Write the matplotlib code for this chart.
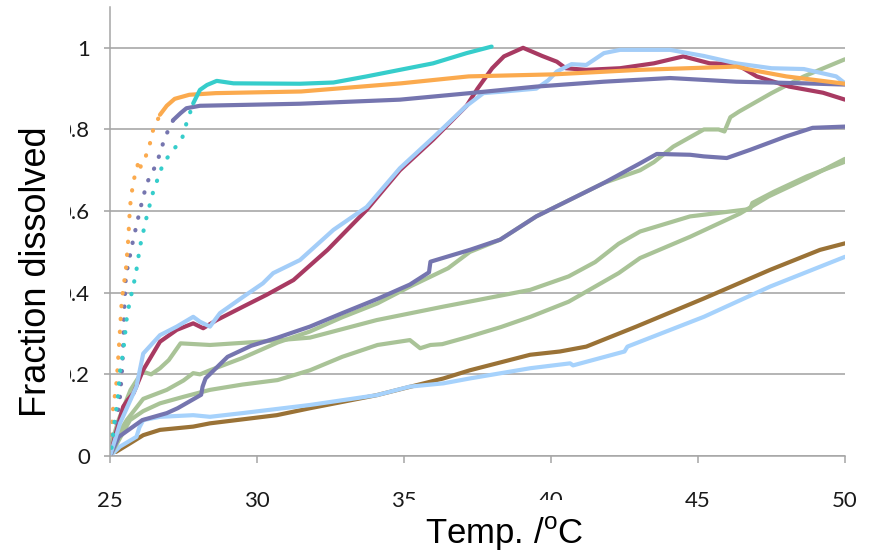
import matplotlib
matplotlib.use("Agg")
import matplotlib.pyplot as plt
from matplotlib import font_manager as fm
from matplotlib.patches import Rectangle

# dissolution curves (temperature in C, fraction dissolved)
orange_T = [25.0, 25.11, 25.17, 25.23, 25.28, 25.34, 25.40, 25.47, 25.54, 25.62, 25.68, 25.79, 25.90,
            25.97, 26.03, 26.10, 26.22, 26.36, 26.47, 26.70, 26.93, 27.20, 27.70, 28.60, 31.50, 34.90,
            37.20, 40.10, 43.00, 46.30, 46.80, 48.00, 50.00]
orange_f = [0.02, 0.121, 0.15, 0.186, 0.24, 0.309, 0.382, 0.42, 0.456, 0.53, 0.611, 0.672, 0.70,
            0.722, 0.705, 0.728, 0.735, 0.766, 0.80, 0.836, 0.858, 0.875, 0.885, 0.889, 0.893, 0.913,
            0.93, 0.935, 0.946, 0.954, 0.946, 0.93, 0.912]

purple_fast_T = [25.0, 25.15, 25.28, 25.34, 25.40, 25.44, 25.48, 25.54, 25.62, 25.79, 26.02, 26.25,
                 26.40, 26.59, 26.80, 26.93, 27.15, 27.40, 27.60, 28.06, 31.46, 34.86, 37.24, 39.5,
                 41.8, 44.05, 46.3, 48.6, 50.0]
purple_fast_f = [0.02, 0.07, 0.113, 0.145, 0.20, 0.252, 0.35, 0.44, 0.47, 0.53, 0.603, 0.668,
                 0.69, 0.717, 0.765, 0.79, 0.823, 0.84, 0.852, 0.858, 0.863, 0.873, 0.889, 0.905,
                 0.917, 0.926, 0.917, 0.913, 0.91]

cyan_T = [25.05, 25.17, 25.25, 25.34, 25.45, 25.57, 25.68, 25.79, 25.90, 26.02, 26.25, 26.47, 26.81,
          27.15, 27.44, 27.60, 27.83, 28.06, 28.30, 28.63, 29.20, 31.46, 32.60, 33.73, 34.86, 35.99,
          37.13, 37.98]
cyan_f = [0.02, 0.096, 0.13, 0.207, 0.256, 0.338, 0.382, 0.415, 0.456, 0.513, 0.587, 0.648, 0.717,
          0.75, 0.775, 0.815, 0.864, 0.897, 0.909, 0.919, 0.913, 0.912, 0.915, 0.93, 0.946, 0.962,
          0.987, 1.003]

crimson_T = [25.0, 25.23, 25.45, 25.6, 25.8, 26.13, 26.7, 27.27, 27.83, 28.17, 28.63, 29.53, 30.33,
             31.24, 32.4, 33.73, 34.86, 35.99, 37.13, 37.5, 38.0, 38.4, 39.05, 39.7, 40.2, 40.5, 41.2,
             42.35, 43.5, 44.5, 45.4, 46.3, 47.0, 48.1, 49.25, 50.0]
crimson_f = [0.0, 0.064, 0.121, 0.137, 0.154, 0.211, 0.28, 0.309, 0.325, 0.313, 0.333, 0.366, 0.395,
             0.431, 0.505, 0.603, 0.70, 0.775, 0.858, 0.90, 0.95, 0.979, 1.0, 0.98, 0.966, 0.95, 0.946,
             0.95, 0.962, 0.979, 0.962, 0.96, 0.93, 0.905, 0.89, 0.873]

ltblue_T = [25.0, 25.34, 25.9, 26.13, 26.7, 27.27, 27.83, 28.06, 28.4, 28.74, 29.53, 30.2, 30.55,
            31.46, 32.6, 33.73, 34.86, 35.99, 37.13, 37.7, 38.4, 39.5, 39.9, 40.2, 40.7, 41.2, 41.8,
            42.35, 43.5, 44.05, 45.2, 46.3, 47.5, 48.6, 49.7, 50.0]
ltblue_f = [0.0, 0.08, 0.17, 0.251, 0.296, 0.317, 0.341, 0.329, 0.317, 0.35, 0.39, 0.423, 0.448,
            0.48, 0.554, 0.61, 0.705, 0.78, 0.858, 0.889, 0.893, 0.90, 0.92, 0.942, 0.96, 0.958, 0.987,
            0.995, 0.995, 0.995, 0.98, 0.962, 0.95, 0.948, 0.93, 0.913]

purple_slow_T = [25.0, 25.3, 26.1, 26.93, 27.3, 28.1, 28.15, 28.25, 29.0, 29.8, 30.7, 31.8, 32.9,
                 34.1, 35.2, 35.85, 35.9, 37.24, 38.27, 39.5, 41.8, 43.03, 43.6, 44.73, 45.2, 45.98,
                 46.77, 48.0, 48.9, 50.0]
purple_slow_f = [0.0, 0.047, 0.088, 0.105, 0.117, 0.15, 0.17, 0.19, 0.243, 0.27, 0.29, 0.317, 0.35,
                 0.385, 0.42, 0.45, 0.476, 0.505, 0.53, 0.587, 0.669, 0.717, 0.74, 0.738, 0.734, 0.73,
                 0.75, 0.783, 0.804, 0.807]

green_a_T = [25.0, 25.57, 26.13, 26.93, 27.5, 27.83, 28.06, 28.4, 29.5, 30.7, 31.8, 32.9, 34.1, 35.2,
             36.5, 37.24, 38.27, 39.5, 41.8, 43.03, 43.5, 44.16, 45.2, 45.7, 45.9, 46.1, 46.4, 47.5,
             48.6, 50.0]
green_a_f = [0.02, 0.088, 0.14, 0.162, 0.185, 0.203, 0.20, 0.21, 0.24, 0.278, 0.305, 0.34, 0.374,
             0.415, 0.46, 0.50, 0.53, 0.587, 0.669, 0.70, 0.72, 0.758, 0.80, 0.80, 0.795, 0.83, 0.844,
             0.889, 0.93, 0.972]

green_b_T = [25.0, 25.3, 25.7, 26.1, 26.4, 26.7, 27.0, 27.4, 28.4, 30.1, 31.8, 34.07, 36.34, 37.5,
             39.29, 40.6, 41.5, 42.3, 43.03, 44.73, 46.77, 46.85, 47.6, 48.7, 50.0]
green_b_f = [0.02, 0.09, 0.162, 0.207, 0.20, 0.215, 0.235, 0.276, 0.272, 0.28, 0.29, 0.333, 0.366,
             0.382, 0.407, 0.44, 0.475, 0.52, 0.55, 0.587, 0.605, 0.62, 0.648, 0.685, 0.721]

green_c_T = [25.0, 25.68, 26.13, 26.7, 27.5, 28.4, 29.5, 30.7, 31.8, 32.9, 34.1, 35.2, 35.55, 35.9,
             36.3, 37.2, 38.3, 39.3, 40.6, 42.3, 43.03, 44.73, 46.43, 47.4, 48.7, 50.0]
green_c_f = [0.0, 0.088, 0.11, 0.129, 0.145, 0.162, 0.175, 0.186, 0.21, 0.243, 0.272, 0.284, 0.264,
             0.272, 0.274, 0.292, 0.316, 0.341, 0.378, 0.448, 0.485, 0.537, 0.594, 0.636, 0.68, 0.728]

brown_T = [25.2, 25.68, 26.13, 26.7, 27.83, 28.4, 30.67, 31.8, 34.07, 36.34, 37.24, 39.29, 40.3,
           41.2, 42.9, 45.2, 47.45, 49.15, 50.0]
brown_f = [0.01, 0.031, 0.051, 0.064, 0.072, 0.08, 0.10, 0.117, 0.149, 0.19, 0.21, 0.248, 0.256,
           0.268, 0.317, 0.386, 0.456, 0.505, 0.521]

ltblue_low_T = [25.0, 25.34, 25.9, 26.0, 26.13, 26.7, 27.83, 28.4, 29.5, 31.8, 34.07, 35.2, 36.34,
                37.24, 39.29, 40.65, 40.75, 42.5, 42.6, 45.2, 47.45, 50.0]
ltblue_low_f = [0.0, 0.023, 0.047, 0.07, 0.088, 0.096, 0.10, 0.096, 0.105, 0.125, 0.149, 0.17, 0.178,
                0.19, 0.215, 0.227, 0.222, 0.256, 0.268, 0.341, 0.415, 0.488]

y_ticks = [0, 0.2, 0.4, 0.6, 0.8, 1]
y_tick_labels = ["0", "0.2", "0.4", "0.6", "0.8", "1"]
x_ticks = [25, 30, 35, 40, 45, 50]


def pick_font(names):
    for n in names:
        try:
            fm.findfont(n, fallback_to_default=False)
            return n
        except ValueError:
            pass
    return "DejaVu Sans"


tick_font = pick_font(["Liberation Sans Narrow", "Lato"])
tick_size = 18 if tick_font == "Liberation Sans Narrow" else 16
label_font = pick_font(["Liberation Sans", "Arial"])

plt.rcParams["mathtext.fontset"] = "custom"
plt.rcParams["mathtext.rm"] = label_font

W, H = 870, 553
fig = plt.figure(figsize=(W / 100, H / 100), dpi=100)
ax = fig.add_axes([110 / W, 97 / H, 735 / W, 449 / H])

LW = 3.0
DOTS = (0, (0.1, 3.0))

# series drawn in order: low ones first, fast risers on top
series = [
    (brown_T, brown_f, "#9A7236", None),
    (ltblue_low_T, ltblue_low_f, "#A6D2FC", None),
    (green_c_T, green_c_f, "#A9C397", None),
    (green_b_T, green_b_f, "#A9C397", None),
    (green_a_T, green_a_f, "#A9C397", None),
    (purple_slow_T, purple_slow_f, "#7575AF", None),
    (crimson_T, crimson_f, "#A83A62", None),
    (ltblue_T, ltblue_f, "#A3CDF8", None),
    (purple_fast_T, purple_fast_f, "#7575AF", 27.15),
    (orange_T, orange_f, "#FBAA4E", 26.8),
    (cyan_T, cyan_f, "#36CDCB", 27.9),
]

for T, f, col, split in series:
    if split is None:
        ax.plot(T, f, color=col, lw=LW, solid_capstyle="round", solid_joinstyle="round")
        continue
    i = max(k for k, t in enumerate(T) if t <= split)
    ax.plot(T[:i + 1], f[:i + 1], color=col, lw=LW, linestyle=DOTS, dash_capstyle="round")
    ax.plot(T[i:], f[i:], color=col, lw=LW, solid_capstyle="round", solid_joinstyle="round")

ax.set_xlim(25, 50)
ax.set_ylim(0, 1.1)
ax.set_yticks(y_ticks)
ax.set_yticklabels(y_tick_labels)
ax.set_xticks(x_ticks)
ax.grid(axis="y", color="#A0A0A0", lw=1.1)
ax.set_axisbelow(True)

for side in ("top", "right"):
    ax.spines[side].set_visible(False)
for side in ("left", "bottom"):
    ax.spines[side].set_color("#A6A6A6")
    ax.spines[side].set_linewidth(1.1)

ax.tick_params(axis="y", length=4.5, width=1.1, color="#A0A0A0", pad=10,
               labelsize=tick_size, labelfontfamily=tick_font, labelcolor="#1A1A1A")
ax.tick_params(axis="x", length=5, width=1.1, color="#A6A6A6", pad=20,
               labelsize=tick_size, labelfontfamily=tick_font, labelcolor="#1A1A1A")

# white boxes of the axis titles sit over parts of the tick labels
fig.add_artist(Rectangle((0, 83 / H), 70 / W, 440 / H, transform=fig.transFigure,
                         facecolor="white", edgecolor="none"))
fig.add_artist(Rectangle((404 / W, 0), 216 / W, 53 / H, transform=fig.transFigure,
                         facecolor="white", edgecolor="none"))

fig.text(37 / W, 1 - 272 / H, "Fraction dissolved", rotation=90, ha="center", va="center",
         fontsize=26, family=label_font, color="black", zorder=3)
fig.text(425 / W, 9 / H, r"Temp. /$^{\mathrm{o}}$C", ha="left", va="baseline",
         fontsize=25, family=label_font, color="black", zorder=3)

fig.savefig("out.png", dpi=100, facecolor="white")
